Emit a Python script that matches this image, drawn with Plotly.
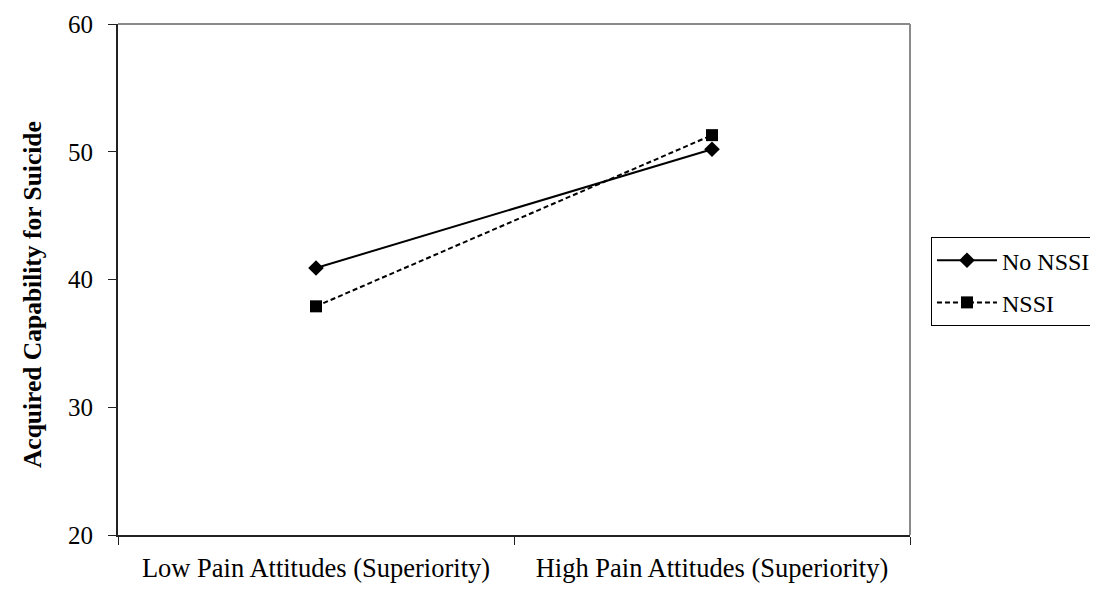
import plotly.graph_objects as go

categories = ["Low Pain Attitudes (Superiority)", "High Pain Attitudes (Superiority)"]
no_nssi = [40.9, 50.2]
nssi = [37.9, 51.3]
y_ticks = [20, 30, 40, 50, 60]

FONT = "Liberation Serif, Times New Roman, serif"

fig = go.Figure()
fig.add_trace(go.Scatter(
    x=categories, y=no_nssi, name="No NSSI", mode="lines+markers", legendgroup="a",
    line=dict(color="black", width=2, dash="solid"),
    marker=dict(symbol="diamond", size=12, color="black"),
))
fig.add_trace(go.Scatter(
    x=categories, y=nssi, name="NSSI", mode="lines+markers", legendgroup="b",
    line=dict(color="black", width=2, dash="5px,3px"),
    marker=dict(symbol="square", size=12, color="black"),
))

fig.update_layout(
    width=1098, height=590,
    margin=dict(l=110, r=196, t=16, b=63, autoexpand=False),
    paper_bgcolor="white", plot_bgcolor="white",
    font=dict(family=FONT, size=24, color="black"),
    showlegend=True,
    legend=dict(
        x=1.0265, y=0.583, xanchor="left", yanchor="top",
        bordercolor="black", borderwidth=1, bgcolor="white",
        font=dict(family=FONT, size=24, color="black"),
        itemwidth=60, tracegroupgap=8,
    ),
    xaxis=dict(
        type="category", categoryarray=categories, range=[-0.5, 1.5],
        tickson="boundaries", ticks="outside", ticklen=8, tickcolor="#222",
        showline=True, linecolor="#222", linewidth=2,
        showgrid=False, zeroline=False, automargin=False,
        ticklabelstandoff=8,
        tickfont=dict(family=FONT, size=26.5, color="black"),
    ),
    yaxis=dict(
        range=[20, 60], tickvals=y_ticks, ticks="outside", ticklen=8, tickcolor="#222",
        showline=True, linecolor="#222", linewidth=2,
        showgrid=False, zeroline=False, automargin=False,
        ticklabelstandoff=10,
        tickfont=dict(family=FONT, size=25, color="black"),
    ),
    annotations=[dict(
        text="<b>Acquired Capability for Suicide</b>", textangle=-90,
        xref="paper", yref="paper", x=-0.107, y=0.47,
        xanchor="center", yanchor="middle", showarrow=False,
        font=dict(family=FONT, size=25.5, color="black"),
    )],
    shapes=[dict(type="line", xref="paper", yref="paper", x0=0, x1=1, y0=1, y1=1,
                 line=dict(color="#8a8a8a", width=2), layer="below"),
            dict(type="line", xref="paper", yref="paper", x0=1, x1=1, y0=0, y1=1,
                 line=dict(color="#8a8a8a", width=2), layer="below")],
)

fig.write_html("out.html")
